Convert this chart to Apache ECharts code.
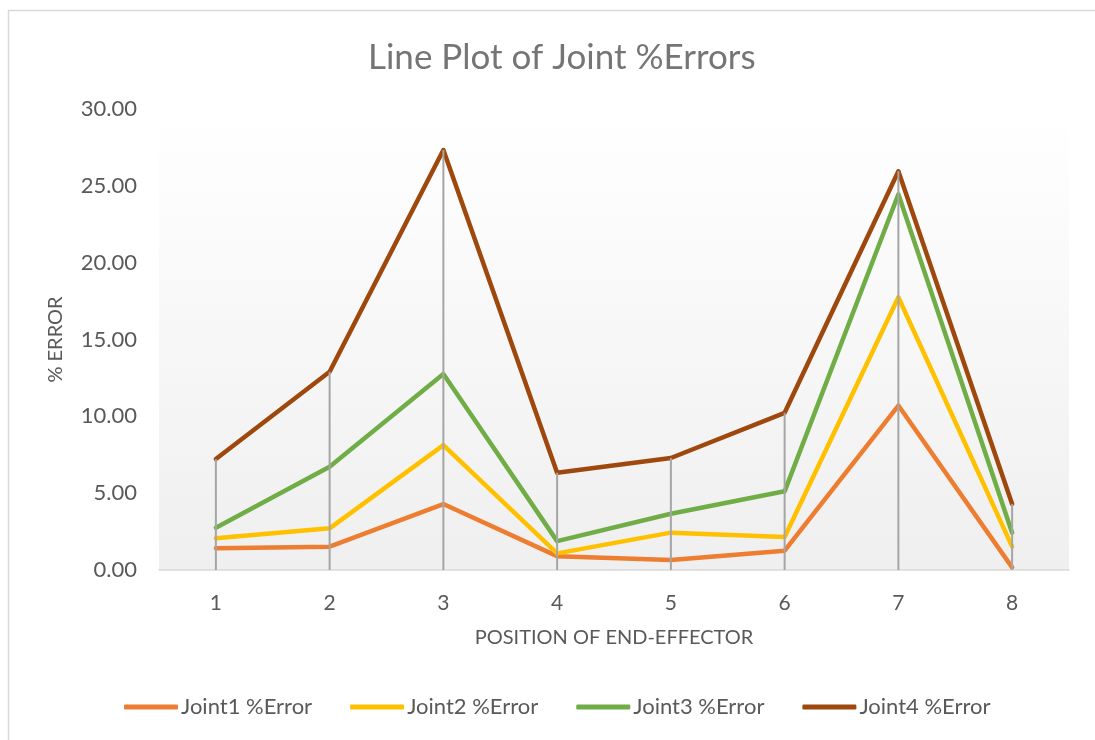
<!DOCTYPE html>
<html>
<head>
<meta charset="utf-8">
<script src="https://cdn.jsdelivr.net/npm/echarts@6/dist/echarts.min.js"></script>
<style>
  html, body { margin: 0; padding: 0; background: #ffffff; }
  #chart { width: 1095px; height: 740px; }
</style>
</head>
<body>
<div id="chart"></div>
<script>
// End-effector positions
const positions = ['1', '2', '3', '4', '5', '6', '7', '8'];

// Percentage error per joint at each position
const joint1 = [1.41, 1.52, 4.29, 0.90, 0.65, 1.26, 10.70, 0.17];
const joint2 = [2.06, 2.71, 8.13, 1.08, 2.43, 2.15, 17.75, 1.52];
const joint3 = [2.75, 6.72, 12.75, 1.88, 3.66, 5.12, 24.45, 2.43];
const joint4 = [7.22, 12.90, 27.33, 6.33, 7.29, 10.23, 25.95, 4.30];

const seriesNames = ['Joint1 %Error', 'Joint2 %Error', 'Joint3 %Error', 'Joint4 %Error'];
const seriesColors = ['#ED7D31', '#FFC000', '#70AD47', '#9E480E'];

// y-axis ticks
const yMin = 0, yMax = 30, yStep = 5;

const allSeries = [joint1, joint2, joint3, joint4];
// drop lines run from the highest point at each position down to the axis
const dropData = positions.map((p, i) => [i, Math.max(...allSeries.map(s => s[i]))]);

const FONT = 'Lato, "Noto Sans", sans-serif';
const chart = echarts.init(document.getElementById('chart'), null, { renderer: 'canvas' });

chart.setOption({
  backgroundColor: '#ffffff',
  animation: false,
  graphic: [{
    type: 'rect',
    shape: { x: 8.5, y: 10.5, width: 1200, height: 900 },
    style: { fill: 'none', stroke: '#d9d9d9', lineWidth: 1.5 },
    silent: true, z: -10
  }],
  title: {
    text: 'Line Plot of Joint %Errors',
    left: 363,
    top: 35,
    textStyle: { fontFamily: FONT, fontSize: 35, fontWeight: 'normal', color: '#757575' }
  },
  grid: {
    left: 159, right: 26, top: 109, bottom: 170,
    show: true,
    borderWidth: 0,
    backgroundColor: new echarts.graphic.LinearGradient(0, 0, 0, 1, [
      { offset: 0, color: '#ffffff' },
      { offset: 1, color: '#efefef' }
    ])
  },
  legend: {
    data: seriesNames,
    bottom: 17,
    left: 119,
    icon: 'roundRect',
    itemWidth: 54,
    itemHeight: 5,
    itemGap: 38,
    textStyle: { fontFamily: FONT, fontSize: 22, color: '#595959', padding: [0, 0, 0, -2] }
  },
  xAxis: {
    type: 'category',
    data: positions,
    boundaryGap: true,
    name: 'POSITION OF END-EFFECTOR',
    nameLocation: 'middle',
    nameGap: 58,
    nameTextStyle: { fontFamily: FONT, fontSize: 20, color: '#595959' },
    axisLine: { show: true, lineStyle: { color: '#d9d9d9', width: 1.5 } },
    axisTick: { show: false },
    axisLabel: { fontFamily: FONT, fontSize: 21, color: '#595959', margin: 23 },
    splitLine: { show: false }
  },
  yAxis: {
    type: 'value',
    min: yMin, max: yMax, interval: yStep,
    name: '% ERROR',
    nameLocation: 'middle',
    nameGap: 93,
    nameTextStyle: { fontFamily: FONT, fontSize: 20, color: '#595959' },
    axisLine: { show: false },
    axisTick: { show: false },
    splitLine: { show: false },
    axisLabel: {
      fontFamily: FONT, fontSize: 22, color: '#595959', margin: 22,
      formatter: v => v.toFixed(2)
    }
  },
  series: allSeries.map((data, k) => ({
    name: seriesNames[k],
    type: 'line',
    data: data,
    symbol: 'none',
    color: seriesColors[k],
    lineStyle: { width: 4.5, color: seriesColors[k], cap: 'round', join: 'round' },
    z: 2
  })).concat([{
    type: 'custom',
    data: dropData,
    z: 5,
    silent: true,
    renderItem: (params, api) => {
      const top = api.coord([api.value(0), api.value(1)]);
      const bottom = api.coord([api.value(0), 0]);
      return {
        type: 'line',
        shape: { x1: top[0], y1: top[1], x2: bottom[0], y2: bottom[1] },
        style: { stroke: '#a5a5a5', lineWidth: 2 }
      };
    }
  }])
});
</script>
</body>
</html>
